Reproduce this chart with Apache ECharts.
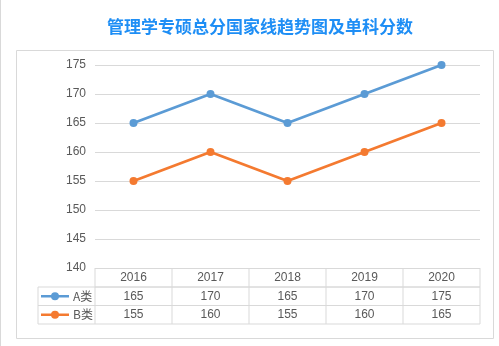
<!DOCTYPE html>
<html><head><meta charset="utf-8">
<script src="https://cdn.jsdelivr.net/npm/echarts@6/dist/echarts.min.js"></script>
<style>html,body{margin:0;padding:0;background:#fff}#c{width:499px;height:346px}</style>
</head><body><div id="c"></div>
<script>
const title = '管理学专硕总分国家线趋势图及单科分数';
const categories = ['2016','2017','2018','2019','2020'];
const seriesNames = ['A类','B类'];
const seriesA = [165,170,165,170,175];
const seriesB = [155,160,155,160,165];
const yTicks = [140,145,150,155,160,165,170,175];
const colors = ['#5B9BD5','#F47A30'];

const chart = echarts.init(document.getElementById('c'));
const FONT = '"Noto Sans CJK SC", "Liberation Sans", sans-serif';
const option = {
  animation:false,
  textStyle:{fontFamily:FONT},
  title:{text:title,left:102,top:13,textStyle:{color:'#1E8EF5',fontSize:17,fontWeight:'bold',fontFamily:FONT}},
  grid:{left:95,right:19,top:65,bottom:78},
  xAxis:{type:'category',data:categories,boundaryGap:true,axisLine:{show:false},axisTick:{show:false},axisLabel:{show:false}},
  yAxis:{type:'value',min:yTicks[0],max:yTicks[yTicks.length-1],interval:5,
    axisLine:{show:false},axisTick:{show:false},
    axisLabel:{color:'#595959',fontSize:12,margin:9,fontFamily:'"Liberation Sans", sans-serif'},
    splitLine:{lineStyle:{color:'#D9D9D9',width:1}}},
  series:[
    {name:seriesNames[0],type:'line',data:seriesA,symbol:'circle',symbolSize:8,lineStyle:{width:2.75,color:colors[0]},itemStyle:{color:colors[0]}},
    {name:seriesNames[1],type:'line',data:seriesB,symbol:'circle',symbolSize:8,lineStyle:{width:2.75,color:colors[1]},itemStyle:{color:colors[1]}}
  ]
};
chart.setOption(option);

function buildTable(){
  const g = [];
  const gray = '#D9D9D9';
  const txt = '#595959';
  const left = 95, right = 480;
  const yTop = chart.convertToPixel({yAxisIndex:0}, yTicks[0]);
  const rowH = 18.5;
  const y1 = yTop + rowH + 0.5, y2 = y1 + rowH, y3 = y2 + rowH;
  const legL = 38;
  const n = categories.length;
  const bw = (right-left)/n;
  const ln = (x1,yA,x2,yB)=>({type:'line',shape:{x1,y1:yA,x2,y2:yB},style:{stroke:gray,lineWidth:1},silent:true});
  g.push({type:'rect',shape:{x:16.5,y:50.5,width:477,height:288},style:{fill:null,stroke:gray,lineWidth:1},silent:true,z:-1});
  g.push(ln(0.5,0,0.5,346));
  g.push(ln(left,y1,right,y1));
  g.push(ln(legL,y1,right,y1));
  g.push(ln(legL,y2,right,y2));
  g.push(ln(legL,y3,right,y3));
  g.push(ln(legL,y1,legL,y3));
  for(let i=0;i<=n;i++){ const x=left+i*bw; g.push(ln(x,yTop,x,y3)); }
  const rows=[seriesA,seriesB];
  categories.forEach((c,i)=>{
    const cx = chart.convertToPixel({xAxisIndex:0}, c);
    g.push({type:'text',style:{text:c,x:cx,y:(yTop+y1)/2,align:'center',verticalAlign:'middle',fill:txt,fontSize:12,fontFamily:'"Liberation Sans", sans-serif'}});
    rows.forEach((r,k)=>{
      const yc = k===0?(y1+y2)/2:(y2+y3)/2;
      g.push({type:'text',style:{text:String(r[i]),x:cx,y:yc,align:'center',verticalAlign:'middle',fill:txt,fontSize:12,fontFamily:'"Liberation Sans", sans-serif'}});
    });
  });
  seriesNames.forEach((nm,k)=>{
    const yc = k===0?(y1+y2)/2:(y2+y3)/2;
    g.push({type:'line',shape:{x1:41,y1:yc,x2:69,y2:yc},style:{stroke:colors[k],lineWidth:2.5}});
    g.push({type:'circle',shape:{cx:55,cy:yc,r:4},style:{fill:colors[k]}});
    g.push({type:'text',style:{text:nm,x:73,y:yc,align:'left',verticalAlign:'middle',fill:txt,fontSize:12,fontFamily:FONT}});
  });
  chart.setOption({graphic:{elements:g}});
}
buildTable();
</script></body></html>
